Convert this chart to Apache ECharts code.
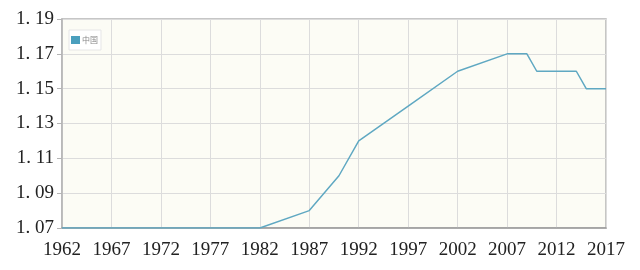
<!DOCTYPE html>
<html>
<head>
<meta charset="utf-8">
<script src="https://cdn.jsdelivr.net/npm/echarts@6/dist/echarts.min.js"></script>
<style>html,body{margin:0;padding:0;background:#fff;}#c{width:640px;height:270px;}</style>
</head>
<body>
<div id="c"></div>
<script>
var seriesName = '中国';
var years = [1962, 1982, 1987, 1990, 1992, 1997, 2002, 2007, 2009, 2010, 2014, 2015, 2017];
var values = [1.07, 1.07, 1.08, 1.10, 1.12, 1.14, 1.16, 1.17, 1.17, 1.16, 1.16, 1.15, 1.15];
var xMin = 1962, xMax = 2017, xStep = 5;
var yMin = 1.07, yMax = 1.19, yStep = 0.02;

var chart = echarts.init(document.getElementById('c'), null, {renderer: 'canvas'});
var serif = '"Liberation Serif", "DejaVu Serif", serif';
chart.setOption({
  animation: false,
  backgroundColor: '#ffffff',
  grid: {left: 62, right: 34, top: 19, bottom: 42, show: true, backgroundColor: '#fcfcf5', borderColor: '#b4b4b4', borderWidth: 1.5},
  legend: {
    show: true, left: 69, top: 30, orient: 'vertical',
    itemWidth: 9, itemHeight: 8, itemGap: 2,
    padding: [6, 3, 6, 2],
    borderColor: '#e6e6e6', borderWidth: 1, backgroundColor: '#ffffff',
    textStyle: {fontSize: 8, color: '#888', fontFamily: '"Noto Sans CJK SC", sans-serif', padding: [0, 0, 0, -3]},
    data: [{name: seriesName, icon: 'rect', itemStyle: {color: '#4a9fbd'}}]
  },
  xAxis: {
    type: 'value', min: xMin, max: xMax, interval: xStep,
    axisLine: {show: true, lineStyle: {color: '#9a9a9a', width: 1.5}},
    axisTick: {show: false},
    axisLabel: {color: '#222', fontSize: 19, fontFamily: serif, margin: 13, formatter: function (v) { return String(Math.round(v)); }},
    splitLine: {show: true, lineStyle: {color: '#dcdcdc', width: 1}}
  },
  yAxis: {
    type: 'value', min: yMin, max: yMax, interval: yStep,
    axisLine: {show: true, lineStyle: {color: '#b4b4b4', width: 1.5}},
    axisTick: {show: true, length: 5, inside: false, lineStyle: {color: '#b4b4b4'}},
    axisLabel: {color: '#222', fontSize: 19, fontFamily: serif, margin: 8, formatter: function (v) { return v.toFixed(2).replace('.', '. '); }},
    splitLine: {show: true, lineStyle: {color: '#dcdcdc', width: 1}}
  },
  series: [{
    name: seriesName, type: 'line', showSymbol: false, symbol: 'none',
    lineStyle: {color: '#5fa8c2', width: 1.5},
    itemStyle: {color: '#4a9fbd'},
    data: years.map(function (y, i) { return [y, values[i]]; })
  }]
});
</script>
</body>
</html>
